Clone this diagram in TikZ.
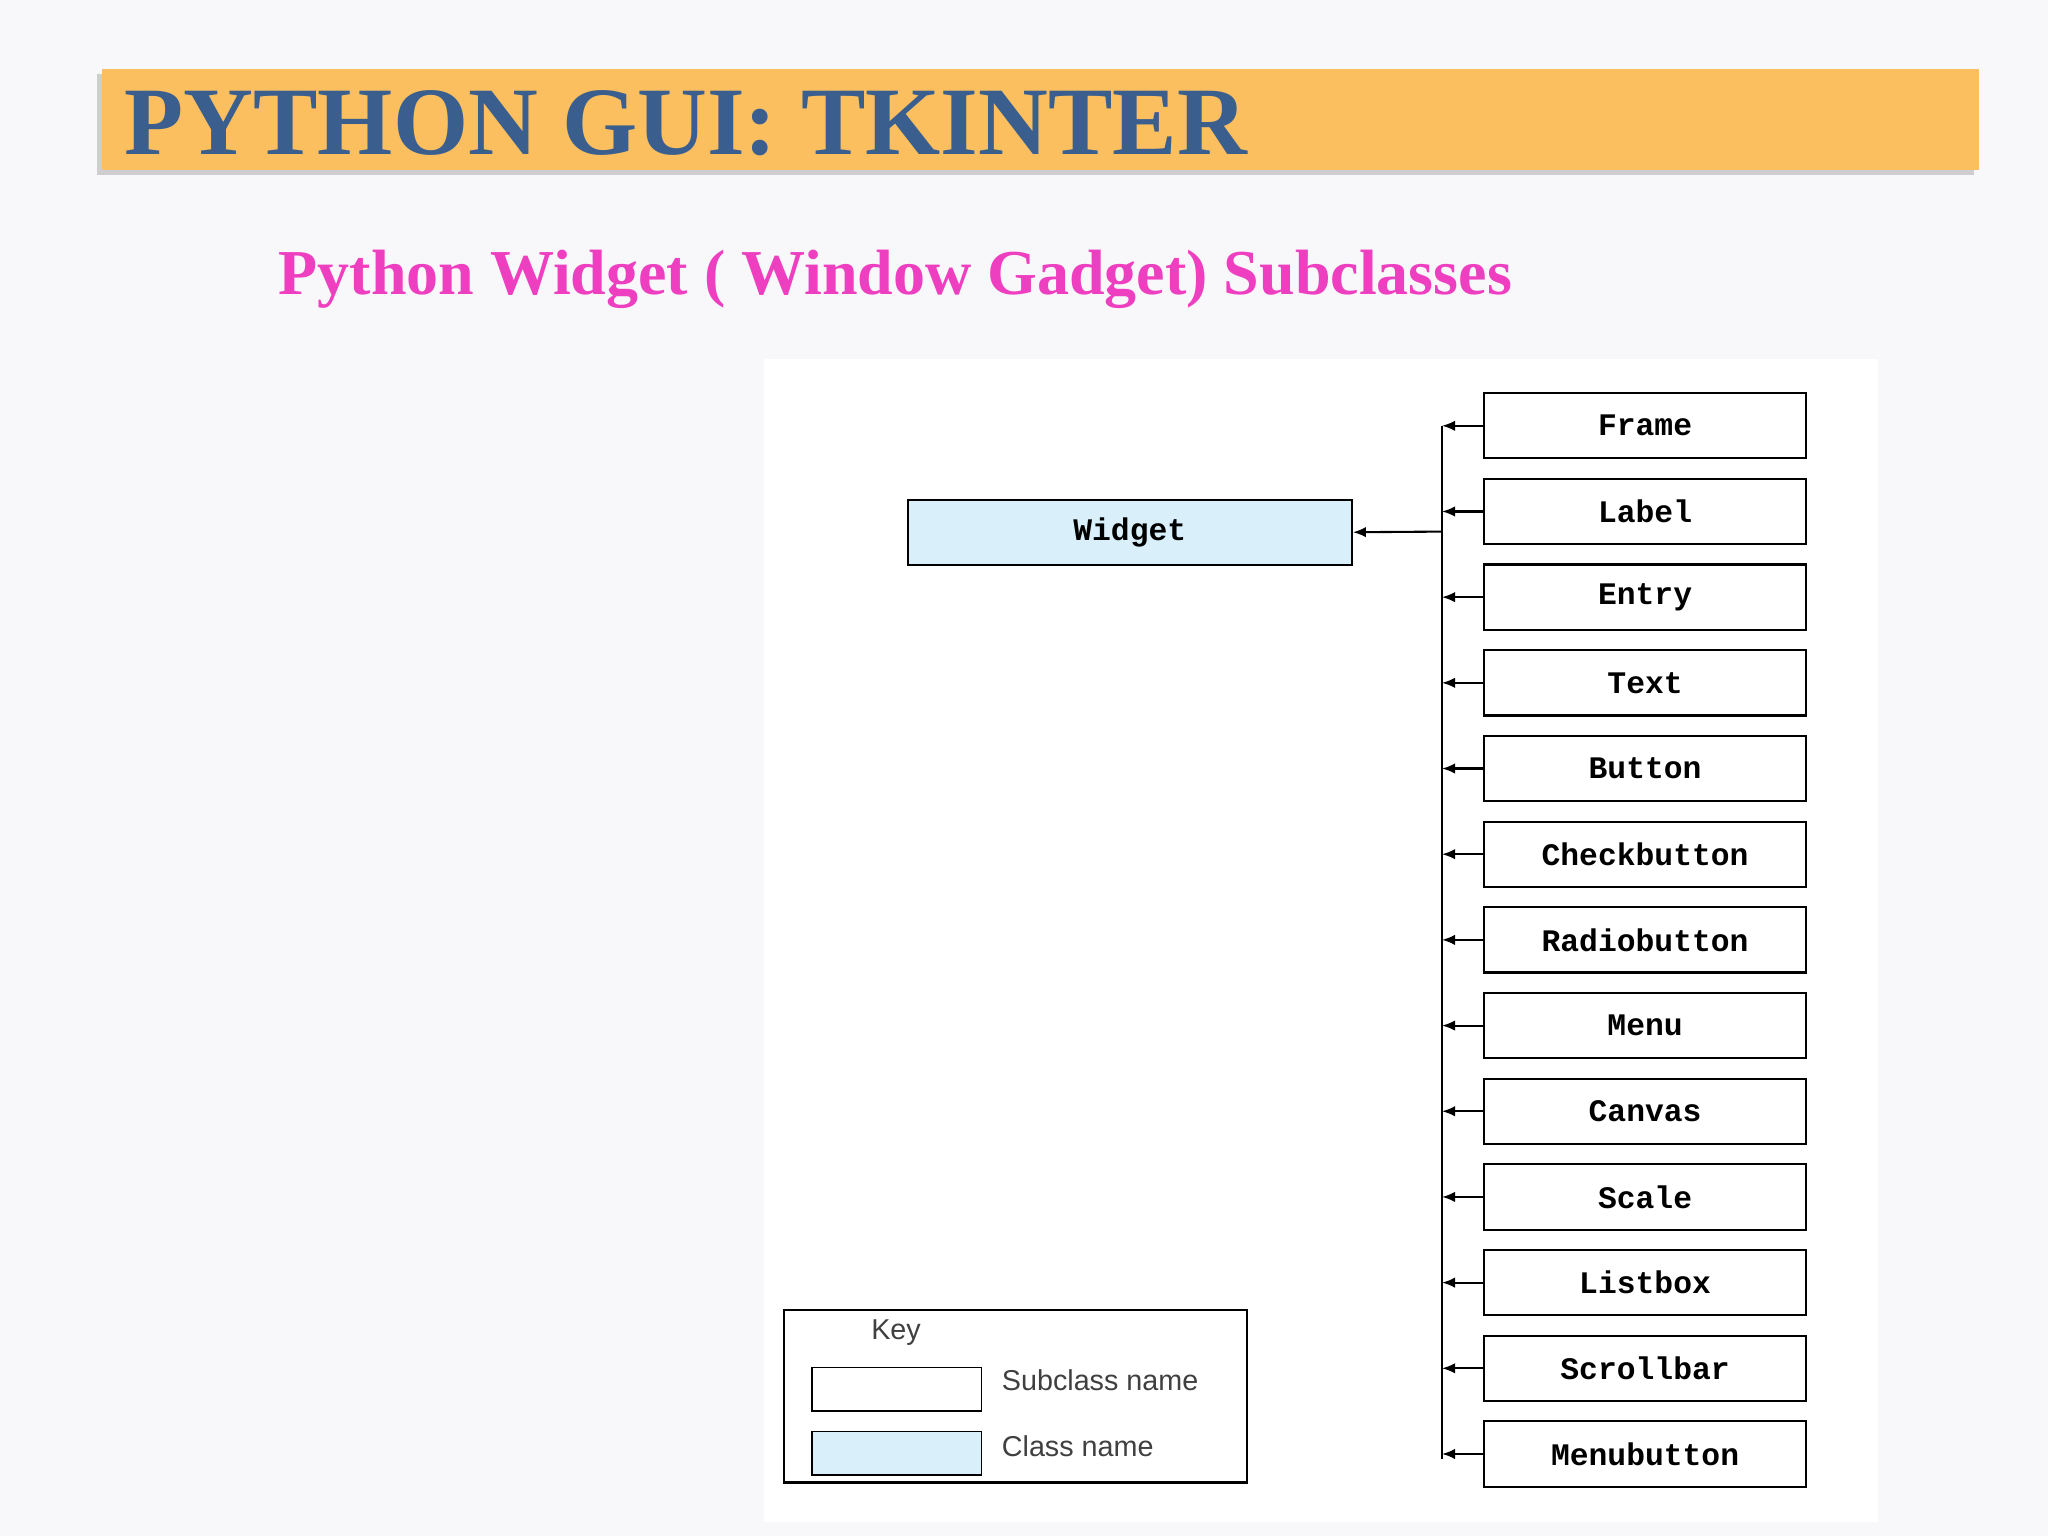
\documentclass[tikz,border=0pt]{standalone}
\usepackage{fontspec}
\setmainfont{Liberation Serif}
\newfontfamily\monof{Liberation Mono}
\newfontfamily\sansf{Liberation Sans}
\usetikzlibrary{arrows.meta,shadows}
\definecolor{bg}{HTML}{F8F8FB}
\definecolor{bar}{HTML}{FBBF5F}
\definecolor{titlec}{HTML}{3A5F8F}
\definecolor{magc}{HTML}{EE3FC0}
\definecolor{lblue}{HTML}{D9EFF9}
\tikzset{
  sub/.style={draw,line width=0.8pt,minimum width=123.5pt,minimum height=25pt,inner sep=0pt,font=\monof\bfseries\fontsize{12}{14}\selectfont},
  keybox/.style={draw,line width=0.7pt,minimum width=65pt,minimum height=16.5pt,inner sep=0pt},
  keytext/.style={anchor=west,font=\sansf\fontsize{11}{13}\selectfont,text=black!75},
  arr/.style={-{Latex[length=5pt,width=4pt]},line width=0.8pt}
}
\begin{document}
\begin{tikzpicture}[x=0.5pt,y=-0.5pt]
\fill[bg] (0,0) rectangle (1568,1176);
\fill[white] (585,275) rectangle (1438,1165);
\node[fill=bar,minimum width=718.5pt,minimum height=38.5pt,inner sep=0pt,drop shadow={opacity=0.35,shadow xshift=-2pt,shadow yshift=-2pt}] (bar) at (796.5,91.5) {};
\node[anchor=west,inner sep=0pt,text=titlec,font=\bfseries\fontsize{37}{40}\selectfont] (title) at (95,94) {PYTHON GUI: TKINTER};
\node[anchor=west,inner sep=0pt,text=magc,font=\bfseries\fontsize{24.5}{28}\selectfont] (subt) at (213,214) {Python Widget ( Window Gadget) Subclasses};
\node[sub,fill=lblue,minimum width=170pt] (w) at (865,407.5) {Widget};
\coordinate (top) at (1104,326);
\coordinate (bot) at (1104,1117);
\draw[line width=0.8pt] (top) -- (bot);
\coordinate (j) at (1104,407);
\draw[arr] (j) -- (w.east);
\foreach \t [count=\i] in {Frame,Label,Entry,Text,Button,Checkbutton,Radiobutton,Menu,Canvas,Scale,Listbox,Scrollbar,Menubutton}{
  \node[sub] (b\i) at (1259.5,{326+65.6*(\i-1)}) {\t};
  \coordinate (c\i) at (1104,{326+65.6*(\i-1)});
  \draw[arr] (b\i.west) -- (c\i);
}
\node[draw,line width=0.8pt,minimum width=177.5pt,minimum height=66pt,inner sep=0pt] (key) at (777.5,1069) {};
\node[font=\sansf\fontsize{11}{13}\selectfont,text=black!75] (kt) at (686,1020) {Key};
\node[keybox] (k1) at (686.5,1063.5) {};
\node[keybox,fill=lblue] (k2) at (686.5,1112.5) {};
\node[keytext] (l1) at (760,1057) {Subclass name};
\node[keytext] (l2) at (760,1107) {Class name};
\end{tikzpicture}
\end{document}
